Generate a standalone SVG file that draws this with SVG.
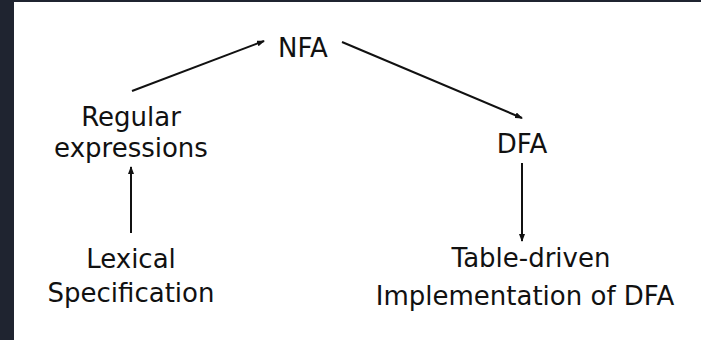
<svg xmlns="http://www.w3.org/2000/svg" width="701" height="340" viewBox="0 0 701 340">
<style>
text{font-family:"DejaVu Sans","Open Sans",sans-serif;font-size:26px;fill:#111;text-anchor:middle}
.c{stroke:#111;stroke-width:2;fill:none}
</style>
<defs>
<marker id="ah" markerWidth="8" markerHeight="6" refX="7" refY="3" orient="auto" markerUnits="userSpaceOnUse">
<path d="M0,0 L8,3 L0,6 Z" fill="#111"/>
</marker>
</defs>
<rect x="0" y="0" width="701" height="340" fill="#1f2430"/>
<rect x="14" y="2" width="687" height="338" fill="#ffffff"/>
<g id="nfa"><text x="303" y="57">NFA</text></g>
<g id="regex"><text x="131" y="126">Regular</text><text x="131" y="157">expressions</text></g>
<g id="dfa"><text x="522" y="153">DFA</text></g>
<g id="lexical"><text x="131" y="268">Lexical</text><text x="131" y="302">Specification</text></g>
<g id="table"><text x="531" y="267">Table-driven</text><text x="525" y="305">Implementation of DFA</text></g>
<g id="connectors">
<line class="c" x1="132" y1="91" x2="264" y2="41" marker-end="url(#ah)"/>
<line class="c" x1="342" y1="42" x2="522" y2="118" marker-end="url(#ah)"/>
<line class="c" x1="131" y1="233" x2="131" y2="167" marker-end="url(#ah)"/>
<line class="c" x1="522" y1="163" x2="522" y2="241" marker-end="url(#ah)"/>
</g>
</svg>
